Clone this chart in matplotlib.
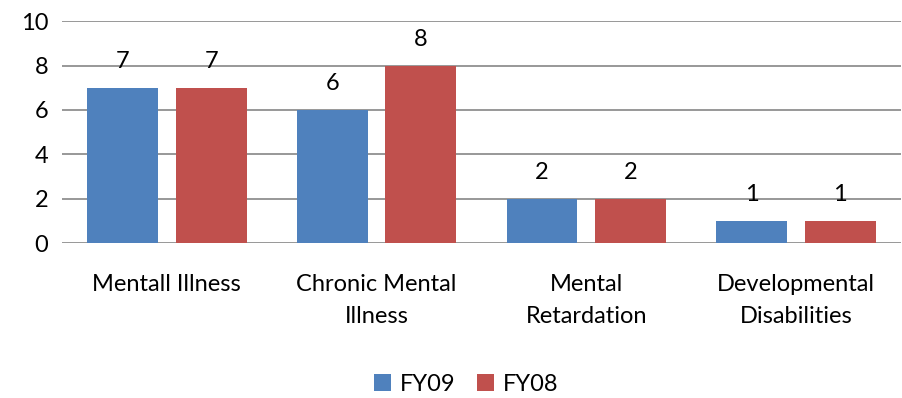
import matplotlib
matplotlib.use("Agg")
import matplotlib.pyplot as plt
import numpy as np

categories = ["Mentall Illness", "Chronic Mental\nIllness", "Mental\nRetardation", "Developmental\nDisabilities"]
fy09 = [7, 6, 2, 1]
fy08 = [7, 8, 2, 1]
series_names = ["FY09", "FY08"]
colors = ["#4F81BD", "#C0504D"]

plt.rcParams['font.family'] = ['Lato', 'DejaVu Sans']
fs = 17

fig = plt.figure(figsize=(9.02, 3.98), dpi=100)
ax = fig.add_axes([0.0687, 0.389, 0.93, 0.558])

x = np.arange(len(categories))
w = 0.338
off = 0.211
bars = []
for vals, name, c, dx in zip([fy09, fy08], series_names, colors, [-off, off]):
    b = ax.bar(x + dx, vals, w, color=c, label=name, zorder=3)
    bars.append(b)
    for xi, v in zip(x + dx, vals):
        ax.annotate(str(v), (xi, v), xytext=(0, 19), textcoords="offset points",
                    ha="center", va="center", fontsize=fs, color="black", zorder=4)

ax.set_xlim(-0.5, len(categories) - 0.5)
ax.set_ylim(0, 10)
ax.set_yticks(range(0, 11, 2))
ax.yaxis.grid(True, color="#868686", lw=1.2, zorder=0)
ax.set_xticks(x)
ax.set_xticklabels(categories, fontsize=fs, linespacing=1.65)
ax.tick_params(axis="x", length=0, pad=22)
ax.tick_params(axis="y", length=0, pad=10, labelsize=fs)
for s in ["top", "right", "left", "bottom"]:
    ax.spines[s].set_visible(False)

fig.legend(handles=bars, labels=series_names, loc="center", bbox_to_anchor=(0.517, 0.035),
           ncol=2, frameon=False, fontsize=fs, handlelength=0.7, handleheight=0.7,
           handletextpad=0.4, columnspacing=0.9)

fig.savefig("out.png", dpi=100)
